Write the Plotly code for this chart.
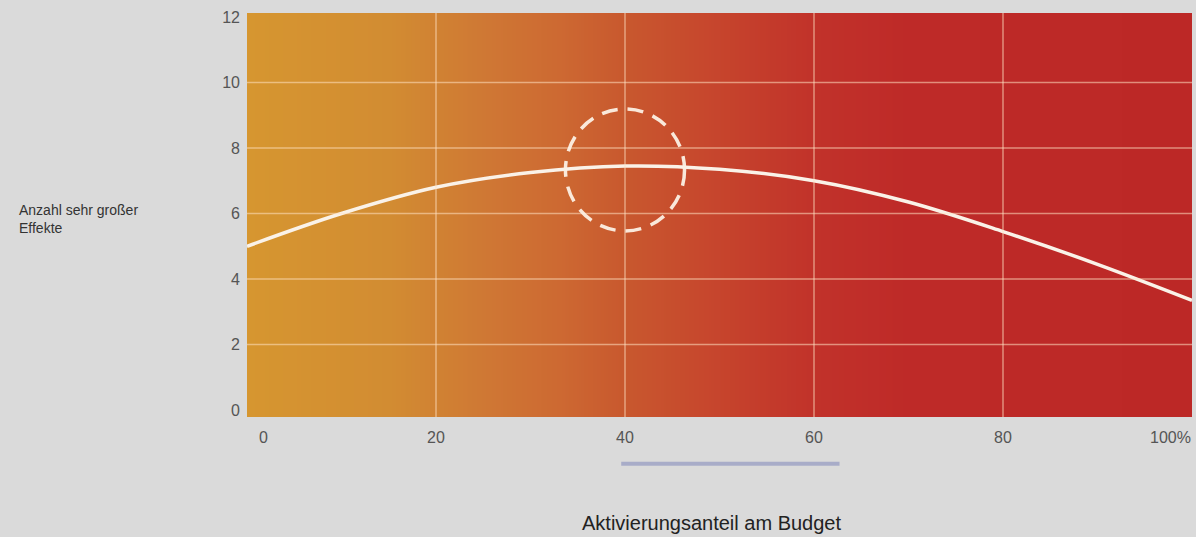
import numpy as np
import plotly.graph_objects as go

# Share of activation in the budget (%) and number of very large effects
budget_share = [0, 10, 20, 30, 40, 50, 60, 70, 80, 90, 100]
large_effects = [5.0, 6.0, 6.8, 7.25, 7.45, 7.35, 7.0, 6.35, 5.45, 4.45, 3.35]

x_tick_vals = [0, 20, 40, 60, 80, 100]
x_tick_text = ["0", "20", "40", "60", "80", "100%"]
y_tick_vals = [0, 2, 4, 6, 8, 10, 12]

# Highlighted optimum region
focus_x, focus_y = 40, 7.33

# Background gradient stops (position along x, colour)
grad_pos = [0, 15, 25, 33, 40, 48, 60, 70, 100]
grad_col = ["rgb(214,150,48)", "rgb(210,140,50)", "rgb(207,120,52)", "rgb(205,105,50)",
            "rgb(200,88,46)", "rgb(199,72,45)", "rgb(193,50,42)", "rgb(190,42,40)",
            "rgb(188,40,38)"]

Y_MIN, Y_MAX = -0.21, 12.12

xs = np.linspace(0, 100, 201)
colorscale = [[p / 100, c] for p, c in zip(grad_pos, grad_col)]

fig = go.Figure()
fig.add_trace(go.Heatmap(
    x=xs, y=[Y_MIN, Y_MAX], z=[xs, xs],
    colorscale=colorscale, zmin=0, zmax=100, zsmooth="best",
    showscale=False, hoverinfo="skip",
))

grid_col = "rgba(255,225,195,0.55)"
shapes = []
for gx in [20, 40, 60, 80]:
    shapes.append(dict(type="line", xref="x", yref="paper", x0=gx, x1=gx, y0=0, y1=1,
                       line=dict(color=grid_col, width=1.5), layer="above"))
for gy in [2, 4, 6, 8, 10]:
    shapes.append(dict(type="line", xref="paper", yref="y", x0=0, x1=1, y0=gy, y1=gy,
                       line=dict(color=grid_col, width=1.5), layer="above"))

# dashed circle around the peak
shapes.append(dict(type="circle", xref="x", yref="y",
                   x0=focus_x - 6.3, x1=focus_x + 6.3, y0=focus_y - 1.86, y1=focus_y + 1.86,
                   line=dict(color="rgba(252,240,228,0.95)", width=3.5, dash="16px,10px"),
                   layer="above"))

# bar below the axis marking the range
shapes.append(dict(type="line", xref="x", yref="paper", x0=39.6, x1=62.7, y0=-0.116, y1=-0.116,
                   line=dict(color="rgb(168,172,200)", width=4)))

fig.add_trace(go.Scatter(
    x=budget_share, y=large_effects, mode="lines",
    line=dict(color="rgb(250,242,232)", width=3.5, shape="spline", smoothing=1.0),
    hoverinfo="skip", showlegend=False,
))

annotations = []
for v, t in zip(x_tick_vals, x_tick_text):
    a = dict(x=v, y=-0.05, xref="x", yref="paper", text=t, showarrow=False,
             yanchor="middle", font=dict(size=16, color="#555555"))
    if v == 0:
        a.update(xanchor="left", xshift=10)
    elif v == 100:
        a.update(xanchor="right", xshift=1)
    else:
        a.update(xanchor="center")
    annotations.append(a)

annotations.append(dict(x=-0.2434, y=5.83, xref="paper", yref="y", xanchor="left",
                        yanchor="middle", align="left", showarrow=False,
                        text="Anzahl sehr großer<br>Effekte",
                        font=dict(size=14, color="#333333")))
annotations.append(dict(x=0.492, y=-0.262, xref="paper", yref="paper", xanchor="center",
                        yanchor="middle", showarrow=False,
                        text="Aktivierungsanteil am Budget",
                        font=dict(size=20, color="#222222")))

fig.update_layout(
    width=1196, height=537,
    margin=dict(l=247, r=4, t=13, b=120),
    paper_bgcolor="#DADADA", plot_bgcolor="#DADADA",
    font=dict(family="Liberation Sans, Arial, sans-serif"),
    showlegend=False,
    shapes=shapes, annotations=annotations,
    xaxis=dict(range=[0, 100], showgrid=False, zeroline=False, showticklabels=False,
               ticks="", fixedrange=True),
    yaxis=dict(range=[Y_MIN, Y_MAX], tickvals=y_tick_vals, showgrid=False, zeroline=False,
               ticks="", tickfont=dict(size=16, color="#555555"), ticklabelstandoff=6),
)

fig.write_html("out.html")
